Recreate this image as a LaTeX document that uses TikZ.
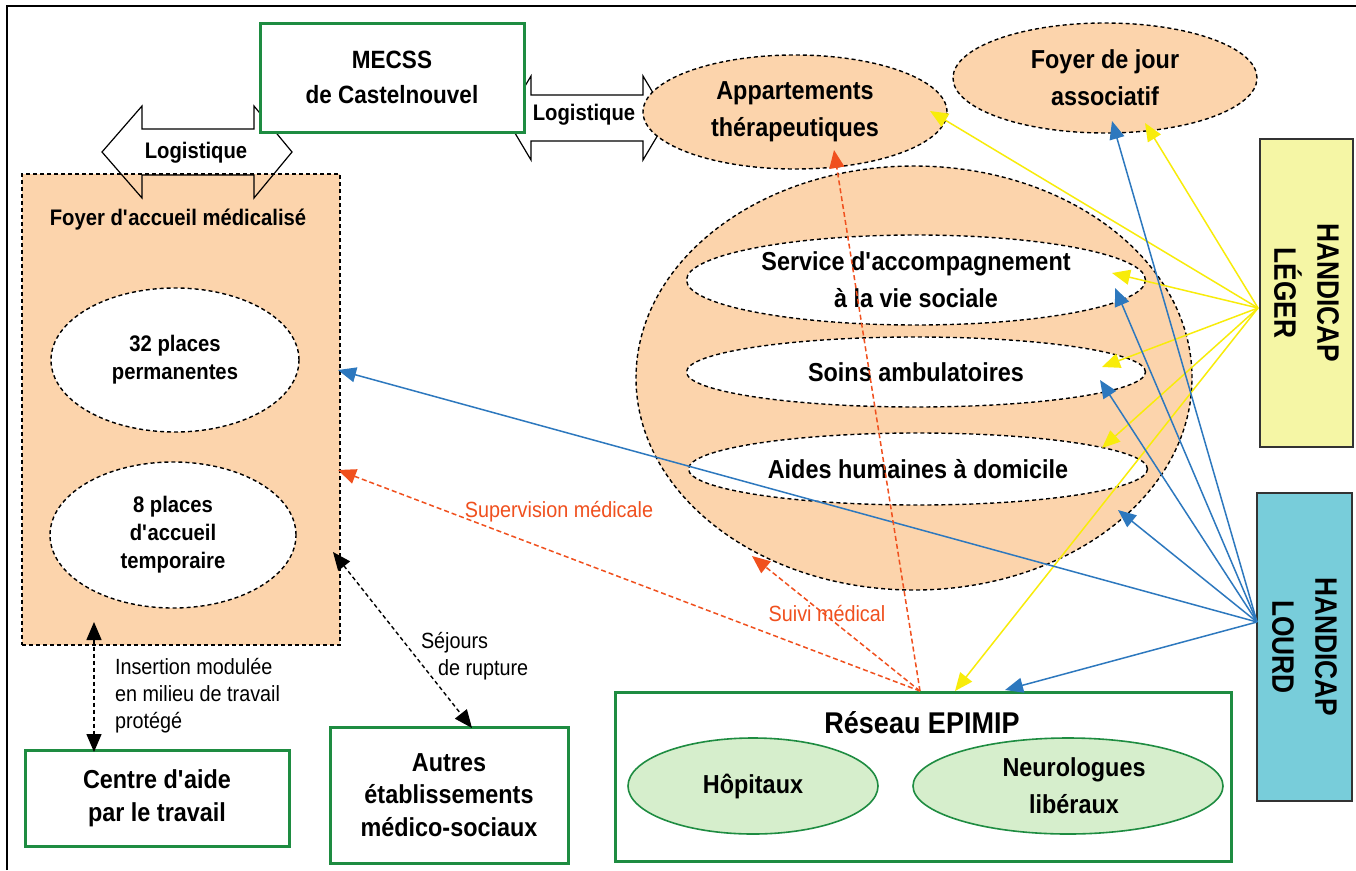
\documentclass[tikz,border=0pt]{standalone}
\usepackage{fontspec}
\setmainfont{Liberation Sans}[FakeStretch=0.9]
\newfontfamily\hcfont{Liberation Sans}[FakeStretch=0.85]
\usetikzlibrary{shapes.geometric,arrows.meta}
\definecolor{peach}{RGB}{252,212,172}
\definecolor{boxgreen}{RGB}{30,140,65}
\definecolor{lgreen}{RGB}{214,238,204}
\definecolor{lyellow}{RGB}{245,246,165}
\definecolor{lcyan}{RGB}{120,205,218}
\definecolor{cyel}{RGB}{248,236,10}
\definecolor{cblue}{RGB}{45,120,190}
\definecolor{cred}{RGB}{240,80,30}
\newcommand{\myBig}{\fontsize{26}{37}\selectfont\bfseries}
\newcommand{\myMid}{\fontsize{22.5}{28}\selectfont\bfseries}
\newcommand{\myReg}{\fontsize{22}{27}\selectfont}
\newcommand{\ap}{\textquotesingle}
\begin{document}
\begin{tikzpicture}[x=1pt,y=-1pt,
  every node/.style={inner sep=0pt,outer sep=0pt},
  gbox/.style={draw=boxgreen,line width=3pt,fill=white,align=center},
  dell/.style={ellipse,draw=black,dash pattern=on 4pt off 3pt,line width=1.4pt,align=center},
  gell/.style={ellipse,draw=boxgreen,line width=1.6pt,fill=lgreen,align=center,font=\myBig},
  hbox/.style={draw=black!80,line width=1.5pt,rotate=-90,align=center,
     minimum width=308pt,font=\hcfont\fontsize{31}{43}\selectfont\bfseries},
  tipA/.style={-{Triangle[length=18pt,width=15pt]}},
  yarr/.style={draw=cyel,line width=1.5pt,tipA},
  barr/.style={draw=cblue,line width=1.5pt,tipA},
  rarr/.style={draw=cred,line width=1.5pt,dash pattern=on 5pt off 3pt,tipA},
  karr/.style={draw=black,line width=1.4pt,dash pattern=on 4pt off 3pt,
     {Triangle[length=18pt,width=15pt]}-{Triangle[length=18pt,width=15pt]}},
  blockarrow/.style={draw=black,line width=1.2pt}
]
\useasboundingbox (0,0) rectangle (1356,870);
\fill[white] (0,0) rectangle (1356,870);
% frame
\draw[line width=1.5pt] (7,870) -- (7,6) -- (1356,6);

% left logistique block arrow
\path[fill=white] (102,152) -- (142,106) -- (142,129) -- (254,129) -- (254,106) -- (292,152) -- (254,198) -- (254,175) -- (142,175) -- (142,198) -- cycle;
% foyer box
\node[draw=black,fill=peach,dash pattern=on 4pt off 3pt,line width=1.4pt,
  minimum width=318pt,minimum height=471pt] (fam) at (181,409.5) {};
\draw[blockarrow] (102,152) -- (142,106) -- (142,129) -- (254,129) -- (254,106) -- (292,152) -- (254,198) -- (254,175) -- (142,175) -- (142,198) -- cycle;
\node[font=\myMid] (log1) at (196,153) {Logistique};
\node[font=\myMid] (famt) at (178,220) {Foyer d\ap accueil médicalisé};
\node[dell,fill=white,minimum width=248pt,minimum height=144pt,font=\myMid] (p32) at (175,360) {32 places\\permanentes};
\node[dell,fill=white,minimum width=246pt,minimum height=146pt,font=\myMid] (p8) at (173,535) {8 places\\d\ap accueil\\temporaire};

% right logistique block arrow
\draw[blockarrow,fill=white] (506,118) -- (531,76) -- (531,95) -- (643,95) -- (643,76) -- (668,118) -- (643,160) -- (643,141) -- (531,141) -- (531,160) -- cycle;
\node[font=\myMid] (log2) at (584,115) {Logistique};

% MECSS
\node[gbox,minimum width=264pt,minimum height=109pt,font=\fontsize{25}{35}\selectfont\bfseries] (mecss) at (392,77.5) {MECSS\\de Castelnouvel};

% ellipses top right
\node[dell,fill=peach,minimum width=304pt,minimum height=114pt,font=\myBig] (app) at (795,112) {Appartements\\thérapeutiques};
\node[dell,fill=peach,minimum width=304pt,minimum height=110pt,font=\myBig] (fjour) at (1105,78) {Foyer de jour\\associatif};

% big ellipse
\node[dell,fill=peach,minimum width=556pt,minimum height=424pt] (big) at (914,378) {};
\node[dell,fill=white,minimum width=459pt,minimum height=90pt,font=\myBig] (svc) at (916,280) {Service d\ap accompagnement\\à la vie sociale};
\node[dell,fill=white,minimum width=459pt,minimum height=70pt,font=\myBig] (soins) at (916,372) {Soins ambulatoires};
\node[dell,fill=white,minimum width=459pt,minimum height=72pt,font=\myBig] (aides) at (918,469) {Aides humaines à domicile};

% handicap boxes
\node[hbox,fill=lyellow,minimum height=93pt] (leger) at (1306.5,293) {HANDICAP\\LÉGER};
\node[hbox,fill=lcyan,minimum height=95pt] (lourd) at (1304.5,647) {HANDICAP\\LOURD};

% bottom boxes
\node[gbox,minimum width=264pt,minimum height=96pt,font=\fontsize{26}{33}\selectfont\bfseries] (cat) at (157,798) {Centre d\ap aide\\par le travail};
\node[gbox,minimum width=238pt,minimum height=136pt,font=\fontsize{26}{32.5}\selectfont\bfseries] (autres) at (449,795) {Autres\\établissements\\médico-sociaux};
\node[gbox,minimum width=616pt,minimum height=169pt] (reseau) at (923,776.5) {};
\node[font=\fontsize{30}{36}\selectfont\bfseries] (reseaut) at (922,723) {Réseau EPIMIP};
\node[gell,minimum width=250pt,minimum height=96pt] (hop) at (753,786) {Hôpitaux};
\node[gell,minimum width=310pt,minimum height=96pt,text depth=0pt] (neuro) at (1068,786) {\hspace*{12pt}Neurologues\\\hspace*{12pt}libéraux};

% labels
\node[font=\myReg,align=left,anchor=west] (ins) at (115,696) {Insertion modulée\\en milieu de travail\\protégé};
\node[font=\myReg,align=left,anchor=west] (sej) at (421,656.5) {Séjours\\\hspace*{17pt}de rupture};
\node[font=\myReg,text=cred] (supl) at (559,512) {Supervision médicale};
\node[font=\myReg,text=cred] (suil) at (827,613) {Suivi médical};

% connector coordinates
\coordinate (yo) at (1258,308);
\coordinate (bo) at (1257,622);
\coordinate (ro) at (920,691);
\coordinate (tyapp) at (930,111);
\coordinate (tyfj) at (1145,123);
\coordinate (tysvc) at (1112,273);
\coordinate (tysoins) at (1102,367);
\coordinate (tyaides) at (1102,448);
\coordinate (tyres) at (955,691);
\coordinate (tbfj) at (1112,121);
\coordinate (tbsvc) at (1115,288);
\coordinate (tbsoins) at (1100,380);
\coordinate (tbbig) at (1118,510);
\coordinate (tbp32) at (338,370);
\coordinate (tbres) at (1005,690);
\coordinate (trapp) at (834,150);
\coordinate (trbig) at (752,556);
\coordinate (trfam) at (338,470);
\coordinate (tkfam) at (333,552);
\coordinate (tkaut) at (472,728);
\coordinate (tkfam2) at (94,622);
\coordinate (tkcat) at (94,752);

% yellow
\draw[yarr] (yo) -- (tyapp);
\draw[yarr] (yo) -- (tyfj);
\draw[yarr] (yo) -- (tysvc);
\draw[yarr] (yo) -- (tysoins);
\draw[yarr] (yo) -- (tyaides);
\draw[yarr] (yo) -- (tyres);
% blue
\draw[barr] (bo) -- (tbfj);
\draw[barr] (bo) -- (tbsvc);
\draw[barr] (bo) -- (tbsoins);
\draw[barr] (bo) -- (tbbig);
\draw[barr] (bo) -- (tbp32);
\draw[barr] (bo) -- (tbres);
% red
\draw[rarr] (ro) -- (trapp);
\draw[rarr] (ro) -- (trbig);
\draw[rarr] (ro) -- (trfam);
% black
\draw[karr] (tkfam) -- (tkaut);
\draw[karr] (tkfam2) -- (tkcat);
\end{tikzpicture}
\end{document}
